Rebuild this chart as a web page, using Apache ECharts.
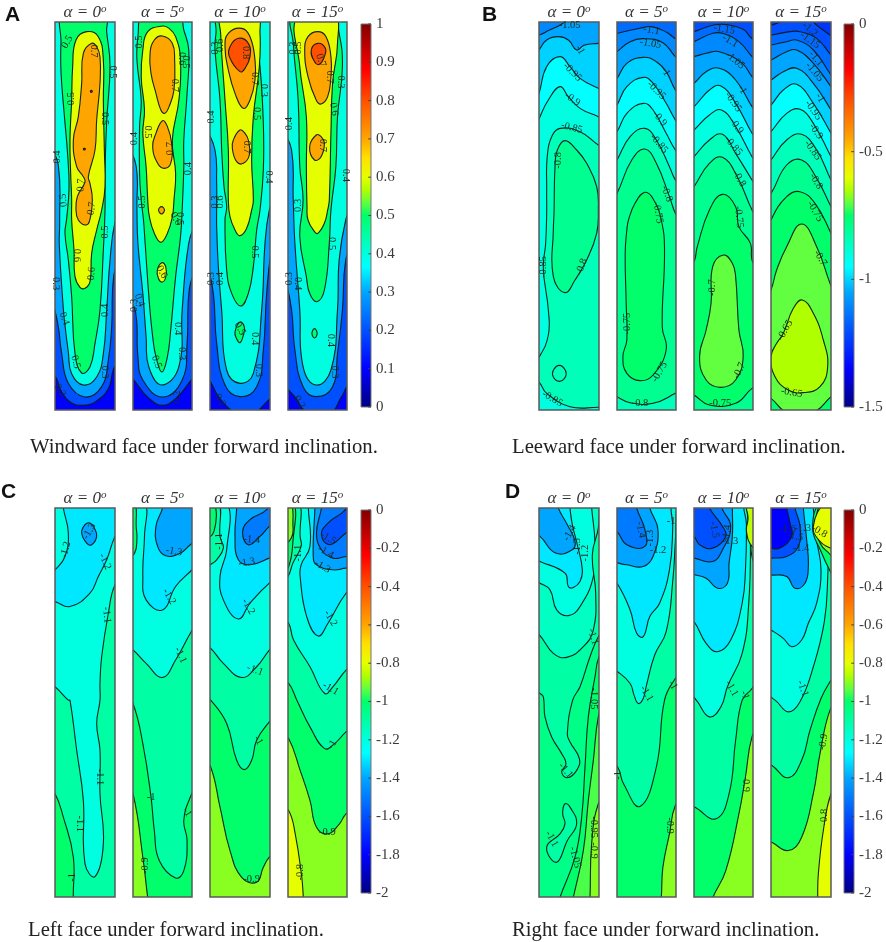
<!DOCTYPE html>
<html><head><meta charset="utf-8">
<style>html,body{margin:0;padding:0;background:#fff}#c{width:886px;height:942px}</style>
<script src="https://cdn.jsdelivr.net/npm/echarts@6/dist/echarts.min.js"></script>
</head><body><div id="c"></div>
<script>
const whole=[-20,-20,200,-20,200,1200,-20,1200];
// contour levels: [lower bound of band, [x,y,...]] on a 0-180 x 0-1164 face
const A1c=[[0.1,whole],
[0.2,[-20,-20,200,-20,200,1000,176,1040,160,1100,120,1140,85,1150,45,1140,15,1100,5,1070,-20,1040]],
[0.3,[-20,750,10,914,20,994,40,1084,90,1125,140,1094,160,1014,170,914,176,764,200,680,200,-20,-20,-20]],
[0.4,[-20,340,10,430,14,600,13,670,25,860,30,910,40,990,50,1055,85,1089,125,1065,145,995,155,865,165,715,180,600,200,560,200,-20,-20,-20]],
[0.5,[25,-20,18,60,18,150,28,280,38,400,42,500,35,590,30,634,40,714,50,824,60,994,80,1053,105,1034,120,964,135,864,145,684,150,564,150,450,155,300,165,130,155,30,150,-20]],
[0.6,[95,29,63,54,53,134,50,234,45,354,47,454,50,534,50,594,57,684,60,764,75,796,90,799,105,779,110,694,125,624,140,564,150,494,148,384,145,234,145,114,130,44]],
[0.7,[110,64,85,94,80,184,70,284,55,354,65,434,85,464,90,480,67,524,63,564,70,594,90,609,103,599,112,534,105,484,100,464,120,384,125,294,135,184,135,104,125,74]],
[0.8,[109,205,112,208,109,211,106,208]],[0.8,[88,379,91,381,88,384,85,381]]];
const A1l=[["0.5",37,60,60],["0.7",115,87,-90],["0.5",172,150,-90],["0.5",50,230,90],["0.5",148,290,-90],["0.4",8,405,90],["0.7",78,490,85],["0.5",25,535,95],["0.7",110,560,80],["0.5",152,630,90],["0.6",65,700,-90],["0.6",110,755,85],["0.3",3,785,-90],["0.4",152,865,90],["0.4",28,890,-70],["0.5",62,1020,-75],["0.3",150,1050,-90],["0.2",15,1105,-60]];
const A2c=[[0.1,whole],
[0.2,[-20,1030,15,1090,50,1130,90,1150,130,1130,165,1090,200,1030,200,-20,-20,-20]],
[0.3,[-20,800,8,870,15,1004,30,1074,90,1125,150,1074,165,964,172,800,200,700,200,-20,-20,-20]],
[0.4,[-20,340,10,434,12,560,15,664,30,814,40,944,48,1034,88,1089,140,1034,150,864,170,664,200,560,200,-20,-20,-20]],
[0.5,[32,-20,15,44,12,114,25,234,20,314,20,454,25,534,32,594,37,664,50,844,60,944,70,1004,88,1050,105,1004,115,924,130,764,145,644,150,564,155,434,155,354,165,214,170,84,155,24,140,-20]],
[0.6,[90,12,45,29,30,84,25,164,35,264,30,334,40,434,45,534,50,584,65,634,85,661,105,634,120,584,125,534,130,454,120,354,140,234,145,114,130,44,110,19]],
[0.6,[88,722,100,735,100,765,90,780,78,770,74,745]],
[0.7,[90,42,65,54,52,94,55,154,70,214,85,264,97,274,110,254,125,204,127,114,120,64]],
[0.7,[90,296,70,334,60,374,75,424,95,439,115,424,118,364,105,314]],
[0.7,[87,554,96,564,87,576,78,564]]];
const A2l=[["0.5",20,60,90],["0.6",148,110,-90],["0.5",162,120,-90],["0.7",128,190,-90],["0.4",5,350,90],["0.5",45,330,-90],["0.7",115,380,90],["0.4",170,440,90],["0.5",28,540,90],["0.6",130,590,-60],["0.5",143,590,-90],["0.6",88,750,-60],["0.4",20,835,-70],["0.3",3,850,90],["0.4",135,920,-90],["0.3",150,995,-90],["0.5",72,1020,-70],["0.2",135,1125,90]];
const A3c=[[0.1,whole],
[0.2,[-20,1050,0,1076,30,1130,80,1172,130,1172,160,1150,200,1090,200,-20,-20,-20]],
[0.3,[-20,640,10,814,20,964,45,1089,90,1124,140,1094,160,984,170,814,185,680,200,640,200,-20,-20,-20]],
[0.4,[-20,280,15,384,20,484,20,554,20,614,25,734,35,864,50,1044,90,1084,130,1054,155,864,165,664,178,564,200,500,200,-20,-20,-20]],
[0.5,[25,-20,18,34,15,84,30,234,35,384,42,494,50,554,45,594,50,744,65,814,92,852,115,814,130,734,140,624,150,564,160,444,160,304,150,134,135,34,125,-20]],
[0.5,[90,900,75,930,80,950,90,962,100,940,103,915]],
[0.6,[35,-20,32,34,45,234,55,384,55,534,60,584,75,624,90,641,110,619,125,564,130,534,125,414,130,284,148,134,150,34,140,-20]],
[0.7,[95,19,55,34,45,74,55,144,75,214,100,259,120,234,135,174,135,114,120,44]],
[0.7,[90,324,70,354,67,379,80,419,100,424,118,399,115,354,105,334]],
[0.8,[85,49,60,74,58,104,90,149,105,139,120,104,115,64]]];
const A3l=[["0.3",15,78,90],["0.6",32,70,90],["0.8",107,92,-90],["0.7",135,170,-90],["0.3",162,205,-90],["0.5",140,275,-90],["0.4",3,285,90],["0.7",110,375,-90],["0.4",175,465,-90],["0.3",15,540,90],["0.6",30,540,90],["0.5",135,690,-90],["0.3",3,770,90],["0.4",30,770,90],["0.5",90,920,-60],["0.4",135,950,-90],["0.3",145,1045,-90],["0.2",30,1135,-60]];
const A4c=[[0.1,whole],
[0.2,[-20,1060,25,1130,60,1172,130,1172,160,1130,176,1100,200,1050,200,-20,-20,-20]],
[0.3,[-20,680,11,864,21,984,46,1094,86,1124,136,1094,151,994,166,864,176,714,200,650,200,-20,-20,-20]],
[0.4,[-20,300,11,384,16,534,21,664,36,864,46,1034,86,1089,131,1044,151,864,156,714,176,594,200,530,200,-20,-20,-20]],
[0.5,[16,-20,16,64,31,234,36,434,46,534,36,644,56,764,66,814,88,839,111,804,126,664,131,564,146,434,151,284,166,134,156,34,136,-20]],
[0.5,[81,920,89,934,81,948,73,934]],
[0.6,[30,-20,36,134,56,284,56,434,58,554,61,594,81,629,91,634,111,604,121,564,126,534,131,334,136,184,151,64,140,-20]],
[0.7,[91,29,61,44,51,84,61,164,86,234,101,246,121,224,131,164,131,104,116,44]],
[0.7,[86,339,66,374,81,414,101,404,111,364,101,344]],
[0.8,[91,64,71,84,81,119,96,127,111,104,114,79]]];
const A4l=[["0.3",15,78,90],["0.5",30,78,90],["0.7",100,115,-70],["0.7",126,165,-90],["0.3",160,180,-90],["0.6",140,262,-80],["0.4",3,305,90],["0.7",105,370,-90],["0.4",175,460,-90],["0.3",30,550,90],["0.5",132,665,-90],["0.3",5,770,90],["0.4",30,785,-90],["0.4",130,955,-90],["0.3",142,1050,-90],["0.2",35,1140,-60]];

const B1c=[[-1.1,whole],
[-1.05,[-20,40,0,39,30,25,70,5,100,-20,200,-20,200,1200,-20,1200]],
[-1,[-20,110,0,84,23,54,58,44,88,54,113,84,135,70,178,64,200,62,200,1200,-20,1200]],
[-0.95,[-20,260,0,214,23,134,63,104,93,134,123,169,178,199,200,205,200,1200,-20,1200]],
[-0.9,[-20,340,3,284,28,234,63,194,88,224,123,259,178,284,200,295,200,1200,-20,1200]],
[-0.85,[200,380,178,369,123,329,63,319,40,340,25,400,23,500,23,574,20,664,13,739,28,864,28,939,1,1004,-20,1020,-20,1060,3,1084,23,1114,93,1154,180,1156,200,1156]],
[-0.8,[78,356,55,384,48,434,45,574,43,624,43,764,78,812,108,774,143,714,173,634,178,564,173,494,143,424,113,384]],
[-0.85,[61,1030,79,1045,79,1065,61,1078,43,1065,43,1045]]];
const B1l=[["-1.05",92,10,0],["-1",123,84,-60],["-0.95",100,150,-45],["-0.9",100,232,-35],["-0.85",98,317,-15],["-0.8",57,415,90],["-0.8",128,734,70],["-0.85",13,735,90],["-0.85",40,1130,-30]];
const B2c=[[-1.15,whole],
[-1.1,[-20,40,0,34,70,19,105,14,150,30,178,50,200,60,200,1200,-20,1200]],
[-1.05,[-20,105,0,89,40,59,80,50,140,62,178,104,200,120,200,1200,-20,1200]],
[-1,[-20,190,0,169,30,124,80,106,120,119,150,149,178,204,200,230,200,1200,-20,1200]],
[-0.95,[-20,275,0,249,30,194,80,166,110,184,150,244,178,294,200,325,200,1200,-20,1200]],
[-0.9,[-20,350,0,329,30,274,80,244,110,264,150,334,178,384,200,410,200,1200,-20,1200]],
[-0.85,[-20,445,0,414,40,344,85,319,120,354,160,434,178,474,200,500,200,1200,-20,1200]],
[-0.8,[-20,540,0,514,45,414,85,381,120,424,160,524,178,574,200,610,200,1100,178,1114,110,1144,40,1142,0,1124,-20,1110]],
[-0.75,[85,511,55,544,35,594,30,624,25,694,28,844,30,954,18,1004,30,1054,70,1076,110,1059,150,984,138,914,145,684,135,594,110,530]]];
const B2l=[["-1.1",105,25,-10],["-1.05",102,65,-10],["-1",148,148,-60],["-0.95",120,205,-45],["-0.9",130,290,-50],["-0.85",128,365,-50],["-0.8",152,515,-70],["-0.75",125,572,-80],["-0.75",32,905,90],["-0.75",130,1050,60],["-0.8",70,1145,0]];
const B3c=[[-1.2,whole],
[-1.15,[-20,35,0,29,60,9,100,8,150,22,177,50,200,60,200,1200,-20,1200]],
[-1.1,[-20,65,0,59,57,34,87,34,137,59,177,104,200,125,200,1200,-20,1200]],
[-1.05,[-20,108,0,104,37,94,77,89,147,124,177,164,200,185,200,1200,-20,1200]],
[-1,[-20,195,0,184,37,149,77,139,127,174,177,254,200,285,200,1200,-20,1200]],
[-0.95,[-20,265,0,254,47,204,82,192,127,244,177,334,200,365,200,1200,-20,1200]],
[-0.9,[-20,340,0,324,47,279,84,264,127,314,177,404,200,435,200,1200,-20,1200]],
[-0.85,[-20,425,0,404,47,354,87,337,127,394,177,474,200,510,200,1200,-20,1200]],
[-0.8,[-20,520,0,494,47,424,87,406,132,464,177,564,200,600,200,1200,-20,1200]],
[-0.75,[-20,760,2,714,10,674,47,564,87,517,127,554,137,614,172,664,177,714,200,760,200,1090,177,1099,127,1144,47,1149,0,1119,-20,1110]],
[-0.7,[90,699,57,734,52,844,37,924,17,1004,37,1074,82,1096,127,1074,150,1004,137,924,127,764,117,724]]];
const B3l=[["-1.15",92,22,-10],["-1.1",110,57,-30],["-1.05",125,115,-40],["-1",147,202,-60],["-0.95",120,240,-55],["-0.9",130,312,-55],["-0.85",120,372,-50],["-0.8",138,470,-60],["-0.75",137,585,-85],["-0.7",55,797,90],["-0.7",138,1046,65],["-0.75",80,1145,0]];
const B4c=[[-1.25,whole],
[-1.2,[-20,12,0,10,60,-10,110,-10,140,12,178,40,200,55,200,1200,-20,1200]],
[-1.15,[-20,40,0,39,57,29,87,29,137,49,180,99,200,120,200,1200,-20,1200]],
[-1.1,[-20,72,0,69,47,59,77,54,127,84,180,159,200,185,200,1200,-20,1200]],
[-1.05,[-20,120,0,114,47,89,77,84,127,124,180,194,200,225,200,1200,-20,1200]],
[-1,[-20,182,0,174,37,149,77,139,127,184,180,264,200,300,200,1200,-20,1200]],
[-0.95,[-20,265,0,249,37,204,77,187,127,244,180,334,200,370,200,1200,-20,1200]],
[-0.9,[-20,350,0,329,47,274,87,262,127,304,180,404,200,440,200,1200,-20,1200]],
[-0.85,[-20,440,0,414,47,354,92,337,137,384,180,474,200,510,200,1200,-20,1200]],
[-0.8,[-20,530,0,514,47,429,92,414,137,469,180,554,200,590,200,1200,-20,1200]],
[-0.75,[-20,660,0,594,47,524,87,509,132,544,180,634,200,680,200,1200,-20,1200]],
[-0.7,[-20,840,0,804,17,744,47,674,92,606,137,674,177,784,200,840,200,1110,180,1124,127,1170,47,1170,0,1129,-20,1120]],
[-0.65,[94,834,67,859,37,934,17,964,0,1004,12,1064,52,1104,97,1112,147,1094,170,1034,157,954,127,874]]];
const B4l=[["-1.2",117,22,-40],["-1.15",117,55,-35],["-1.1",135,110,-50],["-1.05",130,150,-50],["-1",147,228,-60],["-0.95",127,265,-55],["-0.9",135,328,-55],["-0.85",125,385,-55],["-0.8",135,478,-60],["-0.75",132,568,-60],["-0.7",148,708,-60],["-0.65",42,925,60],["-0.65",62,1112,-10]];

const C1c=[[-1.3,whole],
[-1.2,[-20,-20,25,-20,25,0,40,75,30,145,0,185,-20,200,-20,275,0,280,45,295,105,255,130,205,155,155,180,85,200,60,200,1200,-20,1200]],
[-1.1,[200,230,180,230,160,315,140,445,135,525,135,575,125,645,135,725,135,855,145,1005,120,1103,90,1065,85,875,65,725,45,575,40,575,0,535,-20,525,-20,1200,200,1200]],
[-1,[-20,845,0,855,25,925,55,1045,55,1170,60,1200,-20,1200]],
[-1.4,[90,50,80,75,95,105,110,110,125,85,118,60,105,45]]];
const C1l=[["-1.3",103,70,60],["-1.2",32,125,75],["-1.2",150,160,-65],["-1.1",155,320,-85],["-1.1",135,805,-90],["-1.1",75,945,-90],["-1",53,1105,90]];
const C2c=[[-1.4,whole],
[-1.3,[-20,-20,90,-20,90,0,70,55,75,115,100,143,145,135,175,110,200,95,200,1200,-20,1200]],
[-1.2,[-20,-20,35,-20,35,85,30,205,40,275,90,305,130,235,175,190,200,170,200,1200,-20,1200]],
[-1,[-20,-20,5,-20,10,60,12,90,5,135,-20,150]],
[-1.1,[-20,415,0,425,40,465,90,507,130,455,175,375,200,340,200,1200,-20,1200]],
[-1,[-20,570,0,585,30,705,55,865,65,965,80,1055,130,1107,155,1085,165,995,155,935,175,865,200,830,200,1200,-20,1200]],
[-0.9,[-20,840,0,855,30,1045,45,1167,50,1200,-20,1200]]];
const C2l=[["-1.3",125,130,-10],["-1.2",110,265,-60],["-1.1",145,440,-65],["-1",55,865,0],["-1",165,910,-60],["-0.9",38,1070,90]];
const C3c=[[-1.5,whole],
[-1.4,[-20,-20,170,-20,170,5,120,35,98,70,115,110,150,85,178,55,200,40,200,1200,-20,1200]],
[-1.3,[-20,-20,80,-20,80,0,75,85,85,155,120,170,178,150,200,140,200,1200,-20,1200]],
[-1.2,[-20,-20,50,-20,50,125,30,205,40,275,85,332,120,285,178,225,200,215,200,1200,-20,1200]],
[-1.1,[-20,-20,25,-20,30,85,40,120,20,155,0,170,-20,180]],
[-1,[-20,-20,12,-20,12,70,-20,90]],
[-1.1,[-20,410,2,420,40,465,95,507,140,475,178,425,200,405,200,1200,-20,1200]],
[-1,[-20,560,2,575,50,645,80,755,103,783,125,755,140,695,178,640,200,620,200,1200,-20,1200]],
[-0.9,[-20,760,2,775,30,895,60,1025,95,1105,140,1120,160,1075,178,1045,200,1030,200,1200,-20,1200]]];
const C3l=[["-1.1",28,100,90],["-1.4",125,95,-5],["-1.3",110,163,10],["-1.2",115,295,-60],["-1.1",135,485,-20],["-1",145,695,-60],["-0.9",125,1110,0]];
const C4c=[[-1.6,whole],
[-1.5,[-20,-20,175,-20,175,5,122,45,102,80,127,110,177,75,200,60,200,1200,-20,1200]],
[-1.4,[-20,-20,102,-20,102,0,87,75,102,125,137,150,177,145,200,145,200,1200,-20,1200]],
[-1.3,[-20,-20,82,-20,82,0,77,145,87,170,137,185,177,180,200,180,200,1200,-20,1200]],
[-1.2,[-20,-20,62,-20,62,0,67,115,40,170,37,205,57,325,92,383,122,345,177,255,200,245,200,1200,-20,1200]],
[-1.1,[-20,-20,32,-20,37,85,40,115,15,165,0,205,-20,220]],
[-1,[-20,-20,18,-20,15,100,2,175,-20,190]],
[-0.9,[-20,-20,8,-20,15,50,10,90,-20,110]],
[-1.1,[-20,330,2,345,17,395,67,475,112,555,137,535,177,485,200,470,200,1200,-20,1200]],
[-1,[-20,520,2,525,27,575,67,655,112,720,142,705,177,670,200,655,200,1200,-20,1200]],
[-0.9,[-20,680,2,690,37,785,67,875,87,955,122,975,157,945,177,915,200,905,200,1200,-20,1200]],
[-0.8,[-20,900,2,905,22,975,42,1105,47,1167,50,1200,-20,1200]]];
const C4l=[["-1.5",122,90,-30],["-1.4",115,132,-30],["-1.3",105,175,-30],["-1.1",32,135,90],["-1.2",130,330,-60],["-1.1",130,540,-30],["-1",135,708,60],["-0.9",120,970,0],["-0.8",37,1090,90]];

const D1c=[[-1.4,whole],
[-1.3,[-20,75,3,85,50,135,100,125,108,100,85,50,58,0,58,-20,200,-20,200,1200,-20,1200]],
[-1.2,[-20,150,3,160,78,195,88,235,103,238,123,220,130,185,115,110,100,50,93,0,93,-20,200,-20,200,1200,-20,1200]],
[-1.15,[-20,215,3,225,33,245,53,305,88,322,123,295,163,205,168,105,158,0,158,-20,200,-20,200,1200,-20,1200]],
[-1.1,[-20,370,1,380,43,435,83,447,133,415,163,365,170,255,160,140,178,60,185,-20,200,-20,200,1200,-20,1200]],
[-1.05,[200,360,178,385,153,445,123,535,101,575,85,675,93,700,121,750,113,785,85,807,68,790,81,765,68,735,38,685,18,625,13,565,3,555,-20,545,-20,1200,200,1200]],
[-1.1,[78,885,71,915,78,945,63,975,23,1015,53,1060,85,995,113,945,93,895]],
[-1,[200,420,180,445,168,505,148,625,138,775,128,925,108,1045,63,1165,55,1200,200,1200]],
[-0.95,[200,560,178,625,163,755,148,875,133,1025,103,1165,95,1200,200,1200]],
[-0.9,[200,880,178,885,158,1005,153,1165,150,1200,200,1200]]];
const D1l=[["-1.4",92,75,60],["-1.3",115,115,90],["-1.2",140,135,90],["-1.1",162,385,-75],["-1.05",163,570,-90],["-1.1",80,785,-50],["-1.1",38,990,-60],["-1.05",108,1045,-75],["-0.95",165,955,-90],["-0.9",165,1025,-90]];
const D2c=[[-1.5,whole],
[-1.4,[-20,55,0,70,30,110,85,115,85,65,60,0,60,-20,200,-20,200,1200,-20,1200]],
[-1.3,[-20,155,5,165,30,170,80,175,110,145,125,65,100,0,100,-20,200,-20,200,1200,-20,1200]],
[-1.2,[-20,215,0,225,40,305,60,375,80,385,100,325,130,285,160,185,170,60,168,-20,200,-20,200,1200,-20,1200]],
[-1.1,[-20,480,2,490,40,525,52,560,65,585,80,570,90,530,115,440,150,370,170,220,178,100,185,-20,200,-20,200,1200,-20,1200]],
[-1,[200,490,178,510,145,575,120,775,70,893,20,825,2,775,-20,760,-20,1200,200,1200]],
[-0.9,[200,880,178,890,160,975,140,1075,135,1167,130,1200,200,1200]]];
const D2l=[["-1.4",72,65,-80],["-1.3",100,90,90],["-1.2",125,125,0],["-1.1",90,555,-60],["-1",165,40,0],["-1",170,530,-60],["-1",5,800,90],["-0.9",162,950,-90]];
const D3c=[[-1.6,whole],
[-1.5,[-20,80,0,85,17,110,57,120,97,85,87,55,47,0,45,-20,200,-20,200,1200,-20,1200]],
[-1.4,[-20,145,0,150,57,160,87,125,112,55,85,0,85,-20,200,-20,200,1200,-20,1200]],
[-1.3,[-20,195,2,200,37,210,72,240,102,225,107,165,117,85,117,0,117,-20,200,-20,200,1200,-20,1200]],
[-1.2,[-20,330,0,340,37,405,72,430,112,395,147,285,157,185,160,50,155,-20,200,-20,200,1200,-20,1200]],
[-1.1,[-20,550,7,575,47,625,82,595,102,535,147,435,167,285,172,85,165,-20,200,-20,200,1200,-20,1200]],
[-1,[200,500,177,540,147,575,127,695,107,855,67,930,2,895,-20,885,-20,1200,200,1200]],
[-1,[200,-20,165,-20,172,85,178,150,200,190]],
[-0.85,[200,-20,160,-20,165,30,160,70,177,115,200,120]],
[-0.9,[200,660,177,685,157,805,137,915,97,1085,57,1167,50,1200,200,1200]]];
const D3l=[["-1.5",62,65,-80],["-1.4",100,75,80],["-1.3",110,100,0],["-1.1",115,540,-60],["-1",155,560,-70],["-0.9",157,825,-90]];
const D4c=[[-1.8,whole],
[-1.6,[-20,115,0,120,27,120,62,85,57,45,47,0,45,-20,200,-20,200,1200,-20,1200]],
[-1.45,[-20,150,0,150,47,145,82,115,87,55,72,0,72,-20,200,-20,200,1200,-20,1200]],
[-1.3,[-20,195,0,200,47,205,72,240,102,225,112,175,107,95,97,0,97,-20,200,-20,200,1200,-20,1200]],
[-1.2,[-20,355,0,365,37,390,62,415,92,395,112,345,137,285,150,185,135,85,127,0,127,-20,200,-20,200,1200,-20,1200]],
[-1.1,[-20,560,12,575,52,610,87,580,127,475,160,340,170,210,170,100,155,-20,200,-20,200,1200,-20,1200]],
[-1,[200,490,177,520,150,570,117,665,92,755,52,807,2,770,-20,760,-20,1200,200,1200]],
[-0.9,[200,585,177,605,147,735,127,855,92,985,52,1025,2,1000,-20,990,-20,1200,200,1200]],
[-0.8,[200,840,180,855,157,965,142,1095,140,1167,140,1200,200,1200]],
[-1,[200,-20,150,-20,125,60,150,130,178,190,200,225]],
[-0.9,[200,-20,155,-20,135,55,150,110,178,140,200,175]],
[-0.8,[200,-20,165,-20,127,55,147,100,178,120,200,130]]];
const D4l=[["-1.6",50,65,0],["-1.5",72,85,-10],["-1.4",90,120,0],["-1.3",95,60,0],["-0.8",145,70,-30],["-1.1",95,540,-70],["-0.9",157,700,80],["-0.8",160,925,90]];

const angleTitles=["α = 0","α = 5","α = 10","α = 15"];
const captions=["Windward face under forward inclination.","Leeward face under forward inclination.","Left face under forward inclination.","Right face under forward inclination."];
const letters=["A","B","C","D"];
const scales=[[0,1,0.1],[-1.5,0,0.5],[-2,0,0.2],[-2,0,0.2]];
const colorStops=[[0,"#000080"],[.1,"#0000ff"],[.2,"#0050ff"],[.3,"#00a5ff"],[.367,"#00ffff"],[.4,"#00ffe0"],[.467,"#00ff90"],[.5,"#00ff6a"],[.533,"#60ff40"],[.567,"#b0ff00"],[.6,"#e6ff00"],[.65,"#ffe000"],[.7,"#ffa500"],[.8,"#ff5000"],[.88,"#ff0000"],[1,"#800000"]];

const hex=s=>[1,3,5].map(i=>parseInt(s.substr(i,2),16));
function cmap(t){
  t=Math.max(0,Math.min(1,t));
  for(let i=1;i<colorStops.length;i++){
    if(t<=colorStops[i][0]){
      const [a,ca]=colorStops[i-1],[b,cb]=colorStops[i],k=(t-a)/(b-a),p=hex(ca),q=hex(cb);
      return "rgb("+p.map((v,j)=>Math.round(v+(q[j]-v)*k)).join(",")+")";
    }
  }
  return colorStops[colorStops.length-1][1];
}
const faces=[
 {x:[55,133,210,288],w:[60,59,60,59],y:22,h:388,cb:361,cbTop:24,cbH:383,titleY:4,capX:30,capY:437,letterX:5,letterY:5,c:[A1c,A2c,A3c,A4c],l:[A1l,A2l,A3l,A4l]},
 {x:[539,617,694,771],w:[60,59,59,60],y:22,h:388,cb:844,cbTop:24,cbH:383,titleY:4,capX:512,capY:437,letterX:482,letterY:5,c:[B1c,B2c,B3c,B4c],l:[B1l,B2l,B3l,B4l]},
 {x:[55,133,210,288],w:[60,59,60,59],y:508,h:389,cb:361,cbTop:510,cbH:383,titleY:490,capX:28,capY:920,letterX:1,letterY:482,c:[C1c,C2c,C3c,C4c],l:[C1l,C2l,C3l,C4l]},
 {x:[539,617,694,771],w:[60,59,59,60],y:508,h:389,cb:844,cbTop:510,cbH:383,titleY:490,capX:512,capY:920,letterX:505,letterY:482,c:[D1c,D2c,D3c,D4c],l:[D1l,D2l,D3l,D4l]}
];
const grid=[],xAxis=[],yAxis=[],series=[],title=[];
const serif="Liberation Serif";
faces.forEach((f,fi)=>{
  const [mn,mx,iv]=scales[fi];
  f.x.forEach((px,pi)=>{
    const g=grid.length;
    grid.push({left:px,top:f.y,width:f.w[pi],height:f.h,show:false});
    xAxis.push({gridIndex:g,type:"value",min:0,max:180,show:false});
    yAxis.push({gridIndex:g,type:"value",min:0,max:1164,inverse:true,show:false});
    const cs=f.c[pi],ls=f.l[pi];
    series.push({type:"custom",xAxisIndex:g,yAxisIndex:g,coordinateSystem:"cartesian2d",z:2,silent:true,
      data:cs.map((c,i)=>[i]),
      renderItem(p,api){
        const c=cs[api.value(0)],pts=[];
        for(let i=0;i<c[1].length;i+=2)pts.push(api.coord([c[1][i],c[1][i+1]]));
        return {type:"polygon",shape:{points:pts,smooth:0.45},
          clipPath:{type:"rect",shape:{x:p.coordSys.x,y:p.coordSys.y,width:p.coordSys.width,height:p.coordSys.height}},
          style:{fill:cmap((c[0]-mn)/(mx-mn)),stroke:"rgba(10,25,25,0.95)",lineWidth:1.1}};
      }});
    series.push({type:"custom",xAxisIndex:g,yAxisIndex:g,coordinateSystem:"cartesian2d",z:4,silent:true,
      data:ls.map((c,i)=>[i]),
      renderItem(p,api){
        const t=ls[api.value(0)],q=api.coord([t[1],t[2]]);
        return {type:"text",x:q[0],y:q[1],rotation:t[3]*Math.PI/180,
          style:{text:t[0],fontFamily:serif,fontSize:10.5,fill:"#1c2b22",align:"center",verticalAlign:"middle"}};
      }});
    series.push({type:"custom",xAxisIndex:g,yAxisIndex:g,coordinateSystem:"cartesian2d",z:3,silent:true,data:[[0]],
      renderItem(p){
        const s=p.coordSys;
        return {type:"rect",shape:{x:s.x,y:s.y,width:s.width,height:s.height},style:{fill:"none",stroke:"#5a5a5a",lineWidth:1.5}};
      }});
    title.push({text:"{a|"+angleTitles[pi]+"}{s|o}",left:px+f.w[pi]/2,top:f.titleY,padding:0,textAlign:"center",
      textStyle:{fontWeight:"normal",rich:{a:{fontFamily:serif,fontStyle:"italic",fontWeight:"normal",fontSize:17,color:"#333"},s:{fontFamily:serif,fontStyle:"italic",fontWeight:"normal",fontSize:11,color:"#333",verticalAlign:"top",padding:[0,0,7,0]}}}});
  });
  const g=grid.length;
  grid.push({left:f.cb,top:f.cbTop,width:10,height:f.cbH,show:false});
  xAxis.push({gridIndex:g,type:"value",min:0,max:1,show:false});
  yAxis.push({gridIndex:g,type:"value",min:mn,max:mx,interval:iv,position:"right",
    axisLine:{show:false},splitLine:{show:false},axisTick:{show:false},
    axisLabel:{margin:5,fontFamily:serif,fontSize:15,color:"#3a3a3a"}});
  series.push({type:"custom",xAxisIndex:g,yAxisIndex:g,coordinateSystem:"cartesian2d",z:2,silent:true,data:[[0,mn,mx]],
    renderItem(p,api){
      const a=api.coord([0,api.value(2)]),b=api.coord([1,api.value(1)]);
      return {type:"rect",shape:{x:a[0],y:a[1],width:b[0]-a[0],height:b[1]-a[1]},
        style:{stroke:"#777",lineWidth:1,fill:new echarts.graphic.LinearGradient(0,1,0,0,colorStops.map(s=>({offset:s[0],color:s[1]})))}};
    }});
  const tickVals=[];
  for(let k=0;k<=Math.round((mx-mn)/iv);k++)tickVals.push([mn+k*iv]);
  series.push({type:"custom",xAxisIndex:g,yAxisIndex:g,coordinateSystem:"cartesian2d",z:3,silent:true,data:tickVals,
    renderItem(p,api){
      const a=api.coord([0.72,api.value(0)]),b=api.coord([1,api.value(0)]);
      return {type:"line",shape:{x1:a[0],y1:a[1],x2:b[0],y2:b[1]},style:{stroke:"#444",lineWidth:1}};
    }});
  title.push({text:captions[fi],left:f.capX,top:f.capY,padding:0,textStyle:{fontFamily:serif,fontWeight:"normal",fontSize:20.7,color:"#222"}});
  title.push({text:letters[fi],left:f.letterX,top:f.letterY,padding:0,textStyle:{fontFamily:"Liberation Sans",fontWeight:"bold",fontSize:21,color:"#111"}});
});
const chart=echarts.init(document.getElementById("c"));
chart.setOption({animation:false,backgroundColor:"#fff",title,grid,xAxis,yAxis,series});
</script></body></html>
